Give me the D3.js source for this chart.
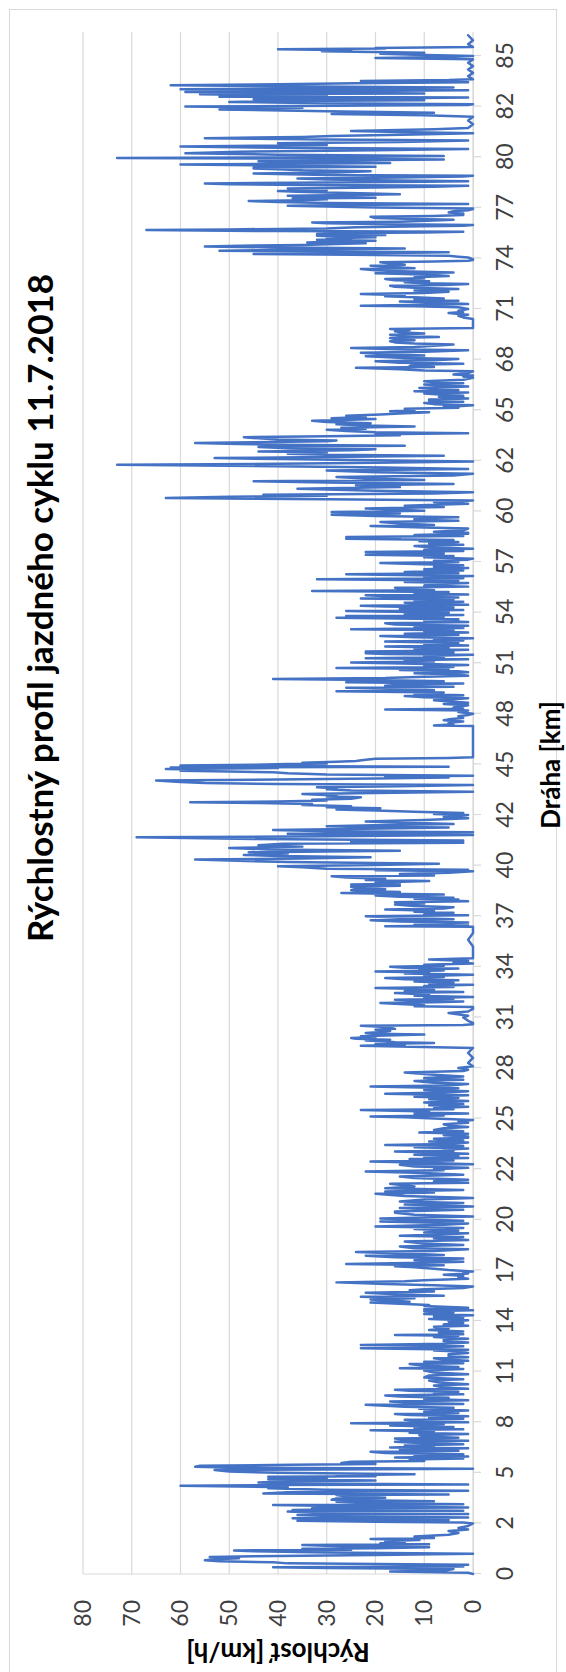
<!DOCTYPE html>
<html>
<head>
<meta charset="utf-8">
<script src="https://cdn.jsdelivr.net/npm/d3@7"></script>
<style>
  body { margin: 0; background: #fff; }
  svg { display: block; }
  text { font-family: Lato, "Open Sans", sans-serif; }
</style>
</head>
<body>
<script>
// Axis labels and titles
const distanceTicks = [0, 2, 5, 8, 11, 14, 17, 20, 22, 25, 28, 31, 34, 37, 40, 42, 45, 48, 51, 54, 57, 60, 62, 65, 68, 71, 74, 77, 80, 82, 85];
const speedTicks = [0, 10, 20, 30, 40, 50, 60, 70, 80];
const chartTitle = "Rýchlostný profil jazdného cyklu 11.7.2018";
const distanceTitle = "Dráha [km]";
const speedTitle = "Rýchlosť [km/h]";

// Speed profile, [distance km, speed km/h], split by stretch of the route
const profileKm0to2 = [[0,0],[0.05,1],[0.1,17],[0.13,6],[0.2,4],[0.24,30],[0.27,41],[0.3,2],[0.34,10],[0.37,1],[0.42,38],[0.46,41],[0.5,52],[0.54,55],[0.58,53],[0.62,48],[0.67,54],[0.7,45],[0.75,20],[0.8,0],[0.85,30],[0.9,45],[0.93,49],[0.96,25],[1.0,35],[1.02,20],[1.06,9],[1.1,27],[1.15,35],[1.18,9],[1.22,19],[1.26,14],[1.3,18],[1.34,11],[1.38,21],[1.42,8],[1.48,12],[1.55,5],[1.62,3],[1.7,5],[1.76,1],[1.82,3],[1.9,1],[2.0,0]];
const profileKm2to11 = [[2.05,2],[2.1,20],[2.16,36],[2.2,5],[2.25,30],[2.3,37],[2.35,1],[2.42,28],[2.5,36],[2.55,1],[2.62,30],[2.7,38],[2.75,2],[2.79,37],[2.85,22],[2.9,33],[2.95,1],[3.02,25],[3.09,41],[3.14,2],[3.2,20],[3.28,28],[3.32,8],[3.4,29],[3.48,28],[3.52,18],[3.6,26],[3.68,28],[3.72,5],[3.78,43],[3.85,38],[3.94,1],[4.0,30],[4.08,42],[4.15,38],[4.23,60],[4.27,43],[4.31,1],[4.37,35],[4.43,44],[4.5,38],[4.55,20],[4.62,42],[4.7,30],[4.76,42],[4.8,20],[4.85,28],[4.92,12],[5.0,40],[5.08,50],[5.16,53],[5.2,30],[5.24,0],[5.3,48],[5.36,57],[5.42,56],[5.47,37],[5.52,20],[5.58,27],[5.65,25],[5.7,10],[5.79,13],[5.85,2],[5.91,16],[5.96,1],[6.05,12],[6.1,2],[6.18,18],[6.25,21],[6.3,3],[6.38,15],[6.45,1],[6.5,17],[6.56,8],[6.62,14],[6.7,2],[6.78,12],[6.84,16],[6.9,1],[6.96,14],[7.03,16],[7.08,3],[7.15,10],[7.23,11],[7.3,1],[7.38,13],[7.45,8],[7.53,21],[7.58,2],[7.65,12],[7.72,4],[7.8,17],[7.88,6],[7.94,25],[7.99,1],[8.05,10],[8.14,14],[8.2,2],[8.28,9],[8.35,1],[8.42,13],[8.49,16],[8.55,3],[8.62,10],[8.7,1],[8.79,11],[8.85,4],[8.92,14],[9.03,22],[9.08,2],[9.15,12],[9.23,17],[9.3,1],[9.38,10],[9.45,5],[9.52,15],[9.58,18],[9.65,2],[9.72,8],[9.8,3],[9.86,13],[9.92,16],[9.98,1],[10.05,6],[10.17,8],[10.25,1],[10.35,7],[10.47,9],[10.55,2],[10.65,10],[10.77,9],[10.85,1],[10.95,8],[11.06,10]];
const profileKm11to20 = [[11.15,2],[11.2,15],[11.28,3],[11.35,10],[11.45,13],[11.5,2],[11.59,10],[11.65,1],[11.72,6],[11.79,8],[11.85,1],[11.92,5],[12.03,5],[12.1,1],[12.19,3],[12.25,8],[12.3,1],[12.38,23],[12.45,8],[12.5,2],[12.58,23],[12.65,6],[12.72,1],[12.8,6],[12.88,6],[12.95,1],[13.05,8],[13.12,3],[13.17,16],[13.22,2],[13.3,7],[13.38,2],[13.47,9],[13.55,5],[13.66,8],[13.72,1],[13.8,6],[13.88,2],[13.96,5],[14.05,1],[14.12,9],[14.2,2],[14.26,8],[14.34,0],[14.42,10],[14.5,4],[14.58,10],[14.64,0],[14.69,10],[14.78,1],[14.89,10],[14.95,9],[15.02,15],[15.09,21],[15.14,13],[15.2,16],[15.28,21],[15.35,12],[15.44,23],[15.5,6],[15.58,16],[15.68,22],[15.75,8],[15.82,13],[15.88,10],[15.95,2],[16.05,0],[16.12,8],[16.2,18],[16.29,28],[16.35,14],[16.41,10],[16.5,1],[16.6,3],[16.68,2],[16.74,6],[16.82,1],[16.9,2],[16.94,0],[17.02,5],[17.1,8],[17.18,12],[17.24,16],[17.3,6],[17.38,26],[17.45,10],[17.52,2],[17.6,12],[17.63,10],[17.7,2],[17.78,16],[17.87,22],[17.92,6],[18.0,14],[18.09,24],[18.15,8],[18.25,1],[18.32,12],[18.42,15],[18.5,2],[18.6,10],[18.72,14],[18.8,1],[18.9,8],[18.98,2],[19.06,15],[19.12,8],[19.2,1],[19.25,10],[19.35,3],[19.45,12],[19.52,2],[19.61,20],[19.7,6],[19.78,1],[19.85,12],[19.9,19]];
const profileKm20to28 = [[19.95,2],[20.05,19],[20.13,0],[20.2,12],[20.28,16],[20.33,16],[20.4,2],[20.47,15],[20.53,0],[20.6,14],[20.66,2],[20.72,15],[20.8,10],[20.86,0],[20.94,14],[21.03,20],[21.08,8],[21.12,18],[21.18,2],[21.25,18],[21.32,12],[21.42,17],[21.46,1],[21.52,8],[21.58,1],[21.65,12],[21.71,15],[21.78,2],[21.85,10],[21.91,22],[21.96,6],[22.0,8],[22.08,1],[22.16,12],[22.26,15],[22.3,0],[22.38,10],[22.45,21],[22.52,4],[22.6,13],[22.66,1],[22.71,10],[22.78,3],[22.85,12],[22.92,1],[23.0,10],[23.05,16],[23.1,4],[23.15,6],[23.22,1],[23.3,12],[23.38,2],[23.44,18],[23.5,5],[23.58,1],[23.64,9],[23.7,2],[23.8,8],[23.87,1],[23.94,1],[24.02,6],[24.1,1],[24.17,11],[24.25,2],[24.33,8],[24.43,6],[24.5,1],[24.58,5],[24.66,6],[24.75,1],[24.85,3],[24.92,0],[25.0,8],[25.08,14],[25.12,21],[25.18,6],[25.25,12],[25.3,1],[25.36,12],[25.42,9],[25.51,23],[25.56,4],[25.62,8],[25.7,1],[25.79,9],[25.86,2],[25.95,10],[26.05,1],[26.15,9],[26.22,3],[26.3,12],[26.38,1],[26.48,18],[26.55,6],[26.62,1],[26.7,10],[26.8,3],[26.9,21],[26.96,5],[27.05,1],[27.13,8],[27.23,12],[27.3,2],[27.4,10],[27.5,2],[27.6,8],[27.73,14],[27.82,2]];
const profileKm28to36 = [[27.9,1],[28.0,3],[28.1,0],[28.3,1],[28.6,0],[28.9,1],[29.19,0],[29.25,10],[29.32,23],[29.38,14],[29.42,20],[29.48,8],[29.52,16],[29.58,18],[29.63,22],[29.68,17],[29.73,24],[29.78,25],[29.83,20],[29.88,23],[29.93,18],[29.98,10],[30.03,20],[30.08,22],[30.14,19],[30.2,17],[30.27,20],[30.32,16],[30.37,17],[30.44,19],[30.51,23],[30.55,2],[30.6,0],[30.67,0],[30.8,1],[31.0,2],[31.1,1],[31.26,5],[31.35,1],[31.5,0],[31.61,0],[31.66,12],[31.72,10],[31.78,14],[31.85,19],[31.9,8],[31.95,2],[32.0,12],[32.05,16],[32.1,4],[32.15,10],[32.21,0],[32.28,12],[32.36,9],[32.44,16],[32.5,2],[32.56,14],[32.62,8],[32.68,11],[32.74,20],[32.8,4],[32.86,10],[32.94,0],[33.0,9],[33.06,4],[33.13,12],[33.2,3],[33.26,14],[33.33,18],[33.4,6],[33.46,10],[33.53,0],[33.6,14],[33.66,9],[33.72,20],[33.78,6],[33.84,11],[33.9,3],[33.95,14],[34.0,17],[34.06,6],[34.12,10],[34.2,0],[34.28,4],[34.35,1],[34.43,9],[34.5,0],[34.8,0],[35.2,0],[35.6,1],[36.0,0],[36.37,0]];
const profileKm36to45 = [[36.41,18],[36.45,1],[36.5,12],[36.57,8],[36.62,1],[36.68,15],[36.76,21],[36.82,4],[36.9,14],[37.0,22],[37.05,1],[37.1,10],[37.2,4],[37.26,12],[37.33,8],[37.4,18],[37.46,6],[37.53,4],[37.6,12],[37.69,16],[37.75,10],[37.83,16],[37.88,1],[37.94,8],[37.99,3],[38.04,12],[38.09,4],[38.15,15],[38.23,20],[38.28,6],[38.33,18],[38.38,27],[38.43,15],[38.5,22],[38.54,25],[38.6,18],[38.66,24],[38.74,25],[38.8,15],[38.88,25],[38.92,15],[39.0,20],[39.08,9],[39.14,22],[39.22,18],[39.3,26],[39.37,29],[39.42,8],[39.5,15],[39.58,5],[39.66,0],[39.72,20],[39.76,1],[39.82,30],[39.9,35],[39.96,40],[40.02,20],[40.07,7],[40.14,38],[40.2,50],[40.24,57],[40.28,35],[40.33,21],[40.38,40],[40.42,47],[40.48,38],[40.53,46],[40.59,15],[40.64,42],[40.7,50],[40.75,35],[40.8,44],[40.86,39],[40.9,2],[40.95,25],[40.99,2],[41.05,45],[41.12,69],[41.16,30],[41.21,0],[41.26,38],[41.32,0],[41.36,30],[41.41,41],[41.46,22],[41.51,5],[41.56,30],[41.6,18],[41.64,4],[41.7,15],[41.74,22],[41.8,10],[41.87,1],[41.93,6],[42.0,1],[42.06,8],[42.12,2],[42.2,12],[42.26,20],[42.33,28],[42.4,19],[42.46,30],[42.52,25],[42.59,35],[42.65,33],[42.71,44],[42.75,58],[42.8,40],[42.86,30],[42.91,33],[42.96,25],[43.05,23],[43.1,30],[43.16,28],[43.25,35],[43.3,20],[43.38,0],[43.45,25],[43.52,30],[43.58,28],[43.64,32],[43.7,15],[43.78,0],[43.84,40],[43.9,55],[43.96,60],[44.04,65],[44.1,40],[44.16,20],[44.22,5],[44.28,18],[44.33,0],[44.4,30],[44.47,38],[44.53,41],[44.58,50],[44.63,60],[44.68,55],[44.73,63]];
const profileKm45to53 = [[44.78,40],[44.82,62],[44.86,5],[44.9,45],[44.94,60],[44.98,45],[45.02,38],[45.06,30],[45.1,35],[45.15,28],[45.2,24],[45.27,22],[45.34,20],[45.38,5],[45.42,0],[45.8,0],[46.3,0],[46.8,0],[47.28,0],[47.31,8],[47.38,4],[47.47,5],[47.55,2],[47.62,6],[47.67,5],[47.75,2],[47.86,3],[47.93,1],[48.0,0],[48.1,3],[48.2,1],[48.26,18],[48.3,2],[48.38,4],[48.42,3],[48.5,1],[48.58,6],[48.65,1],[48.72,4],[48.8,8],[48.85,5],[48.92,1],[48.98,10],[49.05,14],[49.1,2],[49.18,12],[49.26,6],[49.34,28],[49.4,8],[49.47,15],[49.54,26],[49.6,4],[49.67,18],[49.74,14],[49.8,2],[49.87,26],[49.93,6],[50.0,20],[50.07,41],[50.12,18],[50.2,10],[50.26,1],[50.33,3],[50.4,12],[50.46,1],[50.52,3],[50.6,15],[50.66,5],[50.72,28],[50.78,4],[50.84,10],[50.9,1],[50.97,12],[51.04,25],[51.1,8],[51.17,14],[51.24,1],[51.3,22],[51.35,6],[51.42,10],[51.5,0],[51.54,18],[51.59,22],[51.64,4],[51.69,22],[51.74,8],[51.8,1],[51.86,12],[51.92,5],[51.99,18],[52.05,1],[52.12,10],[52.2,3],[52.28,18],[52.34,2],[52.4,8],[52.48,0],[52.54,12],[52.62,19],[52.68,3],[52.75,14],[52.82,1],[52.9,10],[52.96,4],[53.02,25],[53.08,2],[53.15,12],[53.22,1],[53.3,16],[53.37,18]];
const profileKm53to62 = [[53.45,1],[53.52,10],[53.6,3],[53.7,28],[53.75,6],[53.8,26],[53.86,2],[53.93,14],[54.0,5],[54.06,20],[54.1,26],[54.16,2],[54.22,15],[54.3,4],[54.36,18],[54.4,23],[54.46,1],[54.52,9],[54.59,14],[54.65,2],[54.72,12],[54.78,4],[54.83,23],[54.9,3],[54.96,16],[55.03,22],[55.08,1],[55.15,12],[55.22,5],[55.28,33],[55.33,8],[55.4,15],[55.48,16],[55.54,1],[55.6,10],[55.68,9],[55.75,1],[55.82,14],[55.9,3],[55.98,32],[56.04,2],[56.1,10],[56.17,0],[56.22,12],[56.27,26],[56.33,3],[56.4,14],[56.5,2],[56.57,10],[56.64,1],[56.72,8],[56.8,2],[56.88,12],[56.94,19],[57.0,3],[57.08,8],[57.14,1],[57.2,0],[57.28,10],[57.35,4],[57.43,22],[57.5,6],[57.59,22],[57.65,2],[57.72,10],[57.79,0],[57.86,8],[57.95,12],[58.02,2],[58.1,9],[58.18,3],[58.23,11],[58.3,4],[58.38,26],[58.43,15],[58.48,26],[58.54,2],[58.6,12],[58.67,1],[58.74,1],[58.8,8],[58.88,2],[58.98,1],[59.05,10],[59.13,21],[59.2,8],[59.28,15],[59.37,19],[59.44,3],[59.5,12],[59.6,12],[59.65,3],[59.72,20],[59.8,29],[59.88,15],[59.96,29],[60.03,10],[60.11,22],[60.17,6],[60.22,14],[60.3,1],[60.36,8],[60.43,0],[60.48,30],[60.53,63],[60.58,50],[60.62,30],[60.66,43],[60.71,8],[60.76,0],[60.82,20],[60.9,36],[60.96,15],[61.03,24],[61.08,4],[61.14,30],[61.19,45],[61.24,10],[61.3,22],[61.36,28],[61.42,4],[61.49,0],[61.55,20],[61.62,30]];
const profileKm62to70 = [[61.68,1],[61.74,18],[61.8,50],[61.84,73],[61.88,40],[61.92,20],[61.97,0],[62.03,20],[62.1,40],[62.16,53],[62.22,30],[62.3,6],[62.36,30],[62.42,38],[62.5,30],[62.55,44],[62.62,25],[62.69,20],[62.75,38],[62.82,44],[62.89,14],[62.95,40],[63.0,48],[63.05,57],[63.1,45],[63.16,30],[63.21,28],[63.27,40],[63.33,44],[63.4,47],[63.46,30],[63.52,15],[63.58,20],[63.64,1],[63.7,20],[63.77,26],[63.84,30],[63.9,22],[63.96,27],[64.04,12],[64.1,22],[64.16,28],[64.23,21],[64.3,30],[64.37,33],[64.43,25],[64.48,20],[64.53,29],[64.6,22],[64.67,26],[64.74,19],[64.8,15],[64.88,9],[64.94,17],[65.0,12],[65.08,14],[65.14,3],[65.2,6],[65.24,3],[65.3,0],[65.36,8],[65.43,10],[65.5,2],[65.56,9],[65.63,9],[65.7,1],[65.79,7],[65.85,2],[65.92,6],[65.99,10],[66.05,1],[66.13,12],[66.2,3],[66.26,8],[66.32,11],[66.4,1],[66.47,7],[66.52,10],[66.6,2],[66.66,8],[66.72,10],[66.8,2],[66.86,1],[66.92,0],[67.0,2],[67.05,0],[67.11,4],[67.2,1],[67.31,0],[67.36,10],[67.43,15],[67.51,24],[67.56,8],[67.62,13],[67.7,12],[67.75,2],[67.82,15],[67.9,20],[67.96,8],[68.04,3],[68.1,14],[68.2,22],[68.25,10],[68.32,18],[68.4,23],[68.46,10],[68.55,1],[68.6,14],[68.69,25],[68.75,12],[68.82,8],[68.89,4],[68.95,12],[69.02,16],[69.09,17],[69.15,12],[69.22,16],[69.28,17],[69.34,7],[69.4,14],[69.48,17],[69.55,10],[69.62,15],[69.68,16],[69.75,13],[69.82,17],[69.88,0],[70.0,0],[70.2,0],[70.37,0]];
const profileKm70to79 = [[70.41,0],[70.5,2],[70.6,3],[70.66,1],[70.76,5],[70.82,2],[70.9,3],[71.0,1],[71.1,3],[71.16,12],[71.2,23],[71.25,10],[71.3,1],[71.38,8],[71.44,15],[71.49,3],[71.56,12],[71.62,6],[71.69,12],[71.75,18],[71.82,14],[71.89,23],[71.95,10],[72.03,5],[72.1,12],[72.15,8],[72.19,3],[72.26,12],[72.32,16],[72.38,17],[72.43,6],[72.48,1],[72.53,10],[72.58,14],[72.64,9],[72.7,16],[72.78,18],[72.83,10],[72.88,12],[72.95,5],[73.02,8],[73.08,14],[73.12,20],[73.17,4],[73.24,15],[73.3,20],[73.37,23],[73.42,12],[73.5,18],[73.57,21],[73.63,14],[73.7,17],[73.77,19],[73.82,8],[73.86,1],[73.9,0],[73.96,0],[74.05,1],[74.1,3],[74.16,5],[74.21,25],[74.26,45],[74.3,20],[74.36,5],[74.41,30],[74.45,52],[74.52,38],[74.59,14],[74.65,40],[74.71,55],[74.76,45],[74.8,35],[74.85,28],[74.9,22],[74.94,34],[74.99,30],[75.05,20],[75.1,32],[75.15,25],[75.2,30],[75.25,20],[75.3,28],[75.34,32],[75.38,18],[75.44,32],[75.5,25],[75.54,10],[75.58,2],[75.62,40],[75.68,67],[75.72,50],[75.78,30],[75.84,24],[75.9,10],[75.94,2],[75.98,0],[76.04,20],[76.08,30],[76.13,33],[76.18,15],[76.24,8],[76.29,4],[76.35,14],[76.4,20],[76.47,21],[76.52,8],[76.58,2],[76.66,2],[76.72,5],[76.8,4],[76.86,1],[76.92,0],[76.96,0],[77.02,20],[77.07,30],[77.12,38],[77.18,20],[77.22,1],[77.28,30],[77.34,40],[77.4,46],[77.45,35],[77.5,30],[77.55,37],[77.6,20],[77.66,32],[77.71,38],[77.76,25],[77.8,15],[77.85,21],[77.9,30],[77.95,36],[77.99,40],[78.04,30],[78.1,35],[78.15,38],[78.2,20],[78.25,8],[78.3,1],[78.35,35],[78.4,50],[78.44,55],[78.5,30],[78.54,10],[78.58,1],[78.63,20],[78.68,30],[78.74,36],[78.8,15],[78.86,2],[78.9,0],[78.95,30],[79.0,40],[79.04,45],[79.1,28],[79.17,21],[79.22,35],[79.28,40],[79.33,45]];
const profileKm79to86 = [[79.37,45],[79.43,20],[79.5,40],[79.57,60],[79.62,30],[79.66,17],[79.71,38],[79.76,44],[79.82,25],[79.87,6],[79.92,40],[79.96,73],[80.0,30],[80.05,6],[80.1,40],[80.16,59],[80.22,48],[80.27,20],[80.32,1],[80.37,40],[80.42,60],[80.48,30],[80.55,40],[80.6,15],[80.66,1],[80.7,30],[80.75,55],[80.8,35],[80.84,29],[80.9,12],[80.95,0],[81.0,15],[81.04,25],[81.1,8],[81.15,1],[81.3,0],[81.45,1],[81.6,0],[81.66,10],[81.71,29],[81.76,8],[81.82,30],[81.89,52],[81.95,35],[82.0,59],[82.06,20],[82.1,1],[82.14,0],[82.2,30],[82.28,50],[82.34,30],[82.38,10],[82.43,45],[82.48,20],[82.54,1],[82.59,52],[82.65,30],[82.73,56],[82.78,10],[82.82,30],[82.87,59],[82.92,25],[82.97,1],[83.03,60],[83.08,30],[83.13,4],[83.2,40],[83.27,62],[83.32,40],[83.38,24],[83.45,1],[83.52,23],[83.57,5],[83.62,0],[83.8,1],[84.0,0],[84.2,1],[84.4,0],[84.6,1],[84.8,0],[84.88,20],[84.94,5],[85.0,0],[85.07,12],[85.14,19],[85.2,10],[85.28,31],[85.34,25],[85.4,40],[85.44,18],[85.47,20],[85.53,0],[85.7,1],[85.93,0],[86.23,1]];

const profile = [].concat(profileKm0to2, profileKm2to11, profileKm11to20, profileKm20to28,
  profileKm28to36, profileKm36to45, profileKm45to53, profileKm53to62,
  profileKm62to70, profileKm70to79, profileKm79to86);

// Page and chart geometry. The chart is laid out landscape and turned
// a quarter turn counter-clockwise onto the tall page.
const pageW = 566, pageH = 1672;
const plot = { left: 98, right: 1640, top: 83, bottom: 473 }; // landscape coordinates
const step = 50.6; // spacing between distance labels

const svg = d3.select("body").append("svg")
  .attr("width", pageW).attr("height", pageH);

svg.append("rect")
  .attr("x", 9.5).attr("y", 9.5)
  .attr("width", pageW - 19).attr("height", pageH)
  .attr("fill", "#fff").attr("stroke", "#d9d9d9").attr("stroke-width", 1);

const g = svg.append("g").attr("transform", `translate(0,${pageH}) rotate(-90)`);

// Distance axis: labels sit at even spacing, values between them are interpolated
const x = d3.scaleLinear()
  .domain(distanceTicks)
  .range(distanceTicks.map((d, i) => plot.left + i * step));
const y = d3.scaleLinear().domain([0, 80]).range([plot.bottom, plot.top]);

// Horizontal gridlines
g.append("g").selectAll("line").data(speedTicks).join("line")
  .attr("x1", plot.left).attr("x2", plot.right)
  .attr("y1", d => y(d)).attr("y2", d => y(d))
  .attr("stroke", "#d9d9d9").attr("stroke-width", 1.2);

// Left edge of the plot
g.append("line")
  .attr("x1", plot.left).attr("x2", plot.left)
  .attr("y1", plot.top).attr("y2", plot.bottom)
  .attr("stroke", "#d9d9d9").attr("stroke-width", 1.2);

// Distance axis
const xAxis = g.append("g")
  .attr("transform", `translate(0,${plot.bottom})`)
  .call(d3.axisBottom(x).tickValues(distanceTicks).tickFormat(d3.format("d"))
    .tickSize(8).tickPadding(16));
xAxis.select(".domain").attr("stroke", "#d9d9d9").attr("stroke-width", 1.2);
xAxis.selectAll(".tick line").attr("stroke", "#d9d9d9").attr("stroke-width", 1.2);
xAxis.selectAll(".tick text")
  .attr("fill", "#404040").style("font-size", "23px").style("font-family", "Lato, sans-serif");

// Speed axis
const yAxis = g.append("g")
  .attr("transform", `translate(${plot.left},0)`)
  .call(d3.axisLeft(y).tickValues(speedTicks).tickSize(0).tickPadding(26));
yAxis.select(".domain").remove();
yAxis.selectAll(".tick text")
  .attr("fill", "#404040").style("font-size", "23px").style("font-family", "Lato, sans-serif");

// Speed profile line
const line = d3.line().x(d => x(d[0])).y(d => y(d[1]));
g.append("path")
  .datum(profile)
  .attr("d", line)
  .attr("fill", "none")
  .attr("stroke", "#4472c4")
  .attr("stroke-width", 2.5)
  .attr("stroke-linejoin", "round")
  .attr("stroke-linecap", "round");

// Titles
g.append("text")
  .attr("x", pageH - 608).attr("y", 39)
  .attr("text-anchor", "middle").attr("dominant-baseline", "central")
  .style("font-size", "35px").style("font-weight", "bold").attr("fill", "#000")
  .text(chartTitle);

g.append("text")
  .attr("x", pageH - 765).attr("y", 550)
  .attr("text-anchor", "middle").attr("dominant-baseline", "central")
  .style("font-size", "26px").style("font-weight", "bold").attr("fill", "#000")
  .text(distanceTitle);

g.append("text")
  .attr("transform", `translate(${pageH - 1653},${(plot.top + plot.bottom) / 2}) rotate(-90)`)
  .attr("text-anchor", "middle").attr("dominant-baseline", "central")
  .style("font-size", "26px").style("font-weight", "bold").attr("fill", "#000")
  .text(speedTitle);
</script>
</body>
</html>
